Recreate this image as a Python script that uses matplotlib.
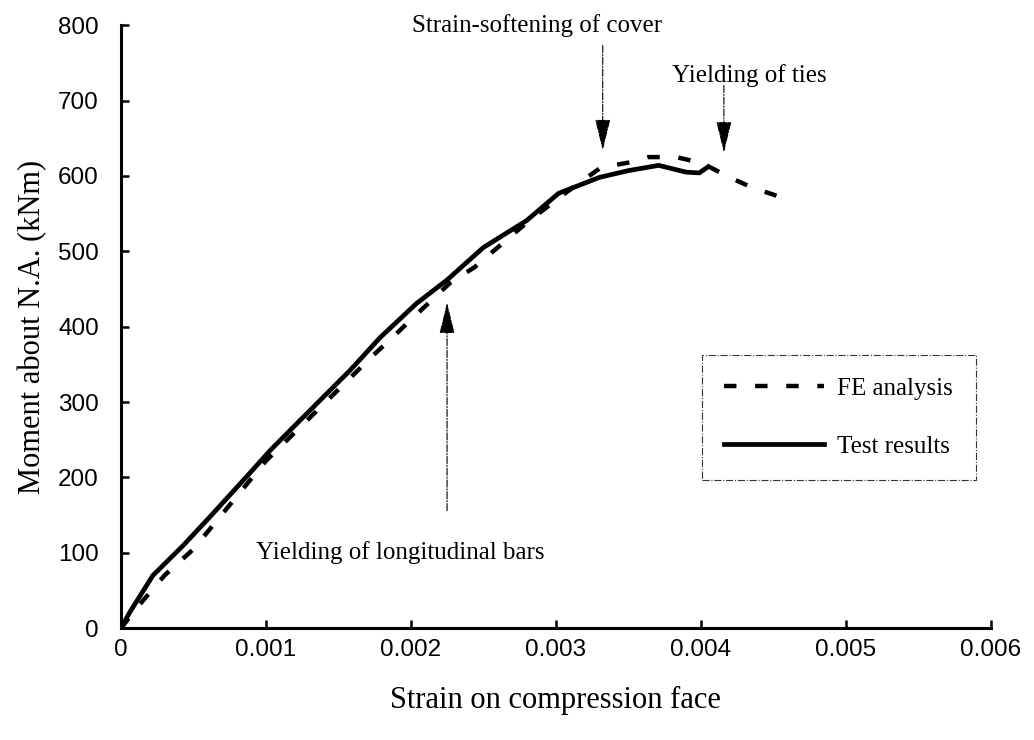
import numpy as np
import matplotlib.pyplot as plt
import matplotlib

matplotlib.rc('font', family='Liberation Serif', size=18)

# Test results (solid)
test_strain = [0, 0.00006, 0.00022, 0.00043, 0.00061, 0.00089, 0.00103, 0.00119,
               0.00158, 0.00179, 0.00204, 0.00225, 0.0025, 0.0028, 0.00302,
               0.0033, 0.0035, 0.00371, 0.0039, 0.00399, 0.00405]
test_moment = [0, 21, 70, 110, 147, 206, 236, 267,
               342, 386, 431, 462, 505, 541, 577,
               598, 607, 614, 605, 604, 612]

# FE analysis (dashed)
fe_strain = [0, 0.0001, 0.0003, 0.0005, 0.001, 0.00174, 0.00188, 0.00201,
             0.00227, 0.00244, 0.0028, 0.00305, 0.00331, 0.00351, 0.00364,
             0.00383, 0.00401, 0.0042, 0.00435, 0.00455]
fe_moment = [0, 25, 70, 105, 222, 362, 387, 411,
             458, 479, 538, 575, 611, 618, 625,
             625, 617, 598, 585, 572]

xticks = [0, 0.001, 0.002, 0.003, 0.004, 0.005, 0.006]
xtick_labels = ['0', '0.001', '0.002', '0.003', '0.004', '0.005', '0.006']
yticks = [0, 100, 200, 300, 400, 500, 600, 700, 800]

fig = plt.figure(figsize=(10.34, 7.4), dpi=100)
ax = fig.add_axes([0.117, 0.151, 0.841, 0.815])

ax.plot(fe_strain, fe_moment, color='black', lw=3.2, dashes=(2.8, 4.2), label='FE analysis')
ax.plot(test_strain, test_moment, color='black', lw=3.4, label='Test results')

ax.set_xlim(0, 0.006)
ax.set_ylim(0, 800)
ax.set_xticks(xticks)
ax.set_xticklabels(xtick_labels)
ax.set_yticks(yticks)
for lbl in ax.get_xticklabels() + ax.get_yticklabels():
    lbl.set_family('Liberation Sans')
    lbl.set_fontsize(17.5)
ax.tick_params(direction='in', length=6, width=1.8)
ax.tick_params(axis='x', pad=8)
ax.tick_params(axis='y', pad=16)
ax.spines['top'].set_visible(False)
ax.spines['right'].set_visible(False)
ax.spines['left'].set_linewidth(2.2)
ax.spines['bottom'].set_linewidth(2.2)

ax.set_xlabel('Strain on compression face', fontsize=22, labelpad=18)
ax.set_ylabel('Moment about N.A. (kNm)', fontsize=22, labelpad=8)

# annotations
arrow = dict(arrowstyle='-|>,head_length=0.9,head_width=0.22', color='black',
             lw=0.8, ls='-.', mutation_scale=22, shrinkA=0, shrinkB=0)
ax.annotate('', xy=(0.003324, 634), xytext=(0.003324, 773), arrowprops=arrow)
ax.text(0.002869, 800, 'Strain-softening of cover', ha='center', va='center', fontsize=18)
ax.annotate('', xy=(0.00416, 631), xytext=(0.00416, 720), arrowprops=arrow)
ax.text(0.004338, 733, 'Yielding of ties', ha='center', va='center', fontsize=18)
ax.annotate('', xy=(0.00225, 432), xytext=(0.00225, 156), arrowprops=arrow)
ax.text(0.001924, 100, 'Yielding of longitudinal bars', ha='center', va='center', fontsize=18)

leg = ax.legend(loc='upper left', bbox_to_anchor=(0.668, 0.245, 0.315, 0.208),
                mode='expand', borderaxespad=0, fontsize=18, handlelength=4.0,
                handletextpad=0.5, labelspacing=1.4, fancybox=False,
                edgecolor='black', borderpad=0.9)
leg.get_frame().set_linestyle('-.')
leg.get_frame().set_linewidth(0.8)

fig.savefig('out.png', dpi=100)
